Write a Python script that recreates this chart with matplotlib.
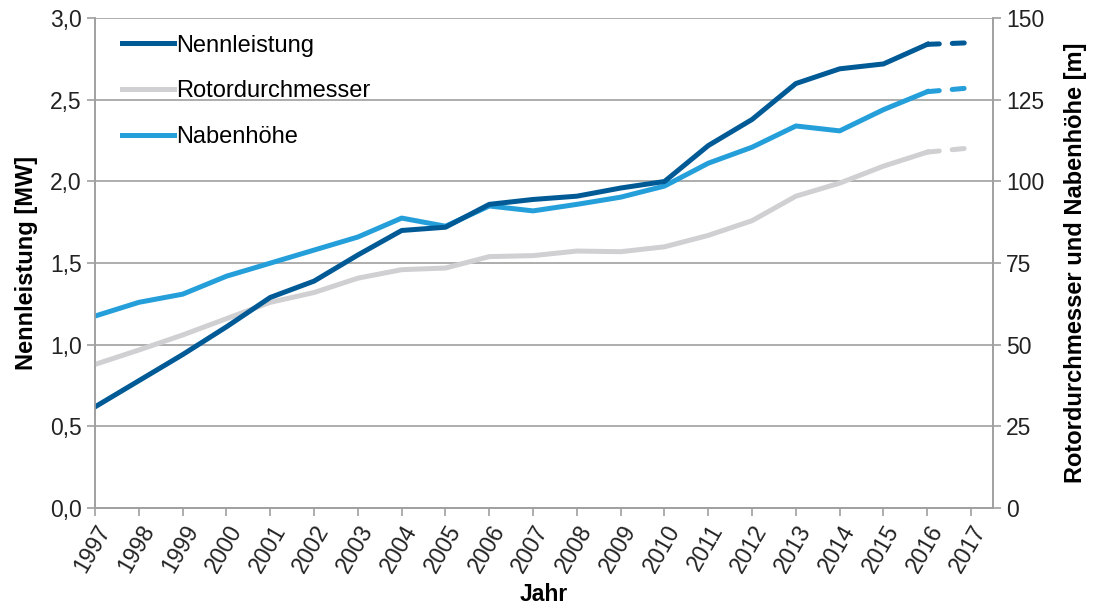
import numpy as np
import matplotlib.pyplot as plt
from matplotlib.ticker import FuncFormatter

plt.rcParams['font.family'] = ['Liberation Sans', 'DejaVu Sans']

jahre = list(range(1997, 2018))
nennleistung = [0.62, 0.78, 0.94, 1.11, 1.29, 1.39, 1.55, 1.70, 1.72, 1.86, 1.89,
                1.91, 1.96, 2.00, 2.22, 2.38, 2.60, 2.69, 2.72, 2.84, 2.85]
rotordurchmesser = [44, 48.4, 53, 58, 63, 66, 70.4, 73, 73.5, 77, 77.3,
                    78.7, 78.5, 80, 83.5, 88, 95.5, 99.5, 104.7, 109, 110.3]
nabenhoehe = [58.8, 63, 65.5, 71, 75, 79, 83, 88.8, 86.3, 92.5, 91,
              93, 95.2, 98.6, 105.6, 110.5, 117, 115.5, 122, 127.5, 128.7]

c_nenn = '#005a96'
c_rotor = '#d0d0d2'
c_nabe = '#259fda'
grau = '#a0a0a0'
lw = 3.6
dash = (0, (2.4, 2.6))

fig = plt.figure(figsize=(10.93, 6.07), dpi=100)
ax = fig.add_axes([0.087, 0.163, 0.8215, 0.807])
ax2 = ax.twinx()

# solid part up to 2016, dashed 2016 -> 2017
ax2.plot(jahre[:-1], rotordurchmesser[:-1], color=c_rotor, lw=lw, label='Rotordurchmesser')
ax2.plot(jahre[-2:], rotordurchmesser[-2:], color=c_rotor, lw=lw, ls=dash, dash_capstyle='round')
ax2.plot(jahre[:-1], nabenhoehe[:-1], color=c_nabe, lw=lw, label='Nabenhöhe')
ax2.plot(jahre[-2:], nabenhoehe[-2:], color=c_nabe, lw=lw, ls=dash, dash_capstyle='round')
ax2.plot(jahre[:-1], [v * 50 for v in nennleistung[:-1]], color=c_nenn, lw=lw, label='Nennleistung')
ax2.plot(jahre[-2:], [v * 50 for v in nennleistung[-2:]], color=c_nenn, lw=lw, ls=dash, dash_capstyle='round')

ax.set_xlim(1997, 2017.5)
ax.set_ylim(0, 3.0)
ax2.set_ylim(0, 150)
ax.set_yticks(np.arange(0, 3.01, 0.5))
ax2.set_yticks(range(0, 151, 25))
ax.yaxis.set_major_formatter(FuncFormatter(lambda v, p: f'{v:.1f}'.replace('.', ',')))
ax.set_xticks(jahre)
ax.set_xticklabels([str(j) for j in jahre], rotation=60, ha='right', rotation_mode='anchor')

ax.grid(axis='y', color=grau, lw=1.2)
ax.set_axisbelow(True)
for a in (ax, ax2):
    for s in a.spines.values():
        s.set_color(grau)
        s.set_linewidth(1.2)
    a.spines['top'].set_visible(False)
    a.tick_params(colors=grau, width=1.2, length=6, labelcolor='#222222', labelsize=16.5)
ax.tick_params(axis='x', labelsize=16.5, pad=3)

ax.set_ylabel('Nennleistung [MW]', fontsize=17, fontweight='bold', labelpad=9)
ax2.set_ylabel('Rotordurchmesser und Nabenhöhe [m]', fontsize=17, fontweight='bold', labelpad=14)
ax.set_xlabel('Jahr', fontsize=16.5, fontweight='bold', labelpad=5)

handles, labels = ax2.get_legend_handles_labels()
order = [2, 0, 1]
leg = ax2.legend([handles[i] for i in order], [labels[i] for i in order],
                 loc='upper left', frameon=False, fontsize=17,
                 handlelength=2.2, handletextpad=0.1, labelspacing=1.0,
                 bbox_to_anchor=(0.006, 1.01))

fig.savefig('out.png', dpi=100)
